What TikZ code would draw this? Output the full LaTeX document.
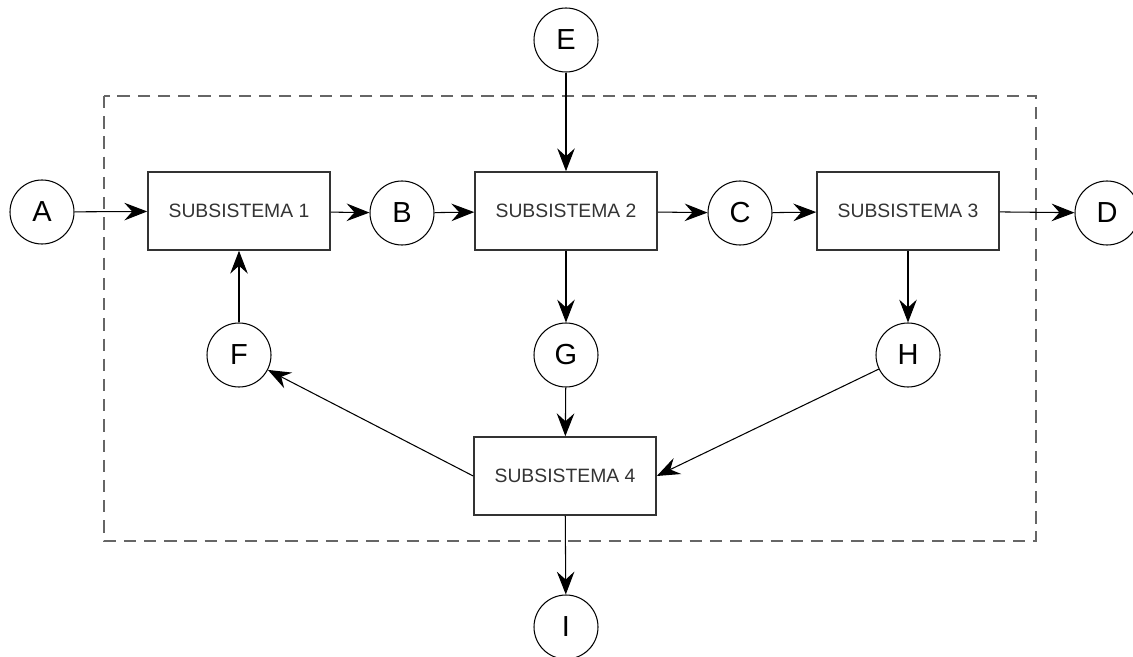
\documentclass[tikz,border=0pt]{standalone}
\usepackage{fontspec}
\setmainfont{Liberation Sans}
\usetikzlibrary{arrows.meta, positioning}

\tikzset{
  sub/.style={draw=black!80, line width=0.9pt, minimum width=3.64cm, minimum height=1.56cm,
    font=\fontsize{11}{13}\selectfont, text=black!80},
  port/.style={draw, circle, line width=0.6pt, minimum size=1.28cm, inner sep=0pt,
    font=\fontsize{16.5}{18}\selectfont},
  flow/.style={-{Stealth[length=13pt, width=10pt, inset=4.5pt]}, line width=0.6pt}
}

\begin{document}
\begin{tikzpicture}
\useasboundingbox (0,0) rectangle (22.66,-13.14);
% system boundary
\draw[black!60, line width=0.9pt, dash pattern=on 7pt off 4.5pt] (2.08,-1.92) rectangle (20.72,-10.82);

   \node[sub] (s1) at (4.78,-4.22) {SUBSISTEMA 1};
   \node[sub] (s2) at (11.32,-4.22) {SUBSISTEMA 2};
   \node[sub] (s3) at (18.16,-4.22) {SUBSISTEMA 3};
   \node[sub] (s4) at (11.30,-9.52) {SUBSISTEMA 4};

   \node[port] (a) at (0.84,-4.24) {A};
   \node[port] (b) at (8.04,-4.26) {B};
   \node[port] (c) at (14.80,-4.26) {C};
   \node[port] (d) at (22.14,-4.26) {D};
   \node[port] (e) at (11.32,-0.80) {E};
   \node[port] (f) at (4.78,-7.10) {F};
   \node[port] (g) at (11.32,-7.10) {G};
   \node[port] (h) at (18.16,-7.10) {H};
   \node[port] (i) at (11.32,-12.54) {I};

\draw[flow] (a) -- (s1);
\draw[flow] (s1) -- (b);
\draw[flow] (b) -- (s2);
\draw[flow] (s2) -- (c);
\draw[flow] (c) -- (s3);
\draw[flow] (s3) -- (d);
\draw[flow] (e) -- (s2);
\draw[flow] (s2) -- (g);
\draw[flow] (s3) -- (h);
\draw[flow] (g) -- (s4);
\draw[flow] (h) -- (s4.east);
\draw[flow] (s4.west) -- (f);
\draw[flow] (f) -- (s1);
\draw[flow] (s4) -- (i);
\end{tikzpicture}
\end{document}
